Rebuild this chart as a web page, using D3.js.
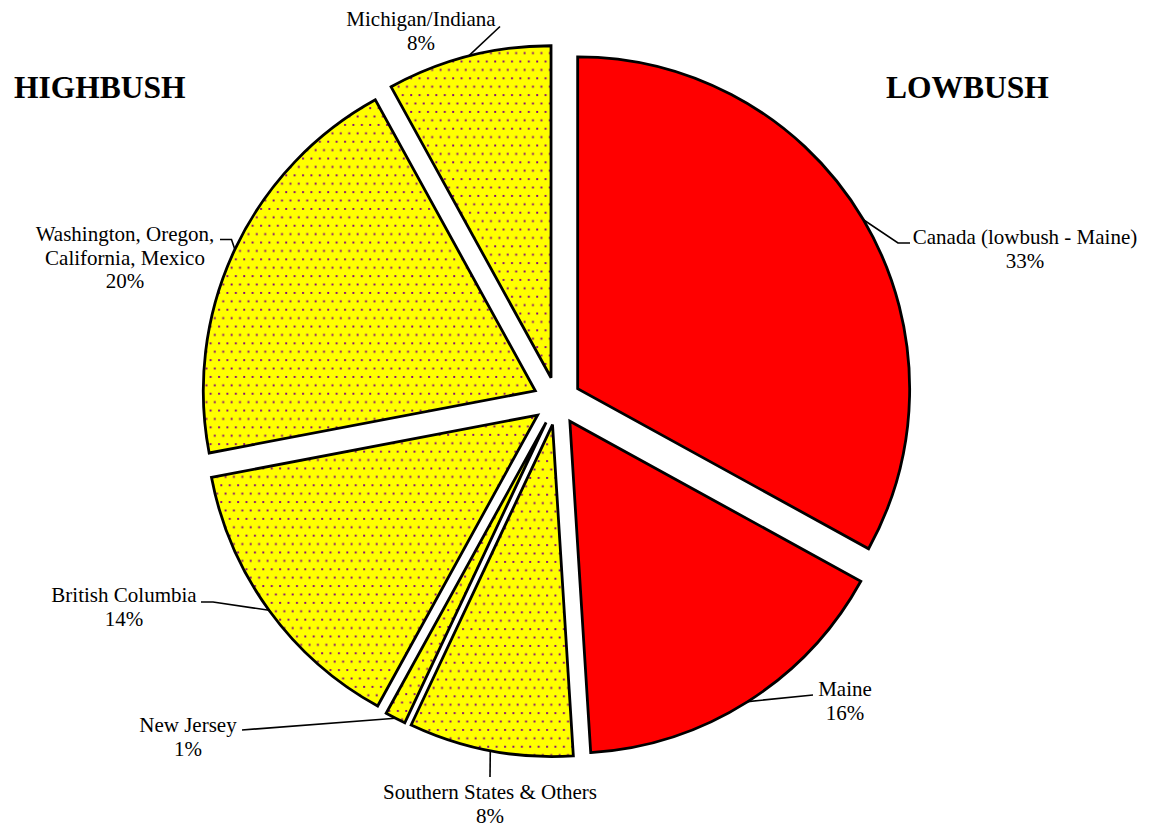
<!DOCTYPE html>
<html>
<head>
<meta charset="utf-8">
<script src="https://cdn.jsdelivr.net/npm/d3@7/dist/d3.min.js"></script>
<style>
html,body{margin:0;padding:0;background:#fff;}
svg{display:block;}
text{font-family:"Liberation Serif","Times New Roman",serif;fill:#000;}
</style>
</head>
<body>
<svg id="chart" width="1151" height="827"></svg>
<script>
// ---- data ----
const regions = ["Canada (lowbush - Maine)", "Maine", "Southern States & Others", "New Jersey", "British Columbia", "Washington, Oregon, California, Mexico", "Michigan/Indiana"];
const shares = [33, 16, 8, 1, 14, 20, 8];
const bushType = ["lowbush", "lowbush", "highbush", "highbush", "highbush", "highbush", "highbush"];
const labelLines = [
  ["Canada (lowbush - Maine)", "33%"],
  ["Maine", "16%"],
  ["Southern States & Others", "8%"],
  ["New Jersey", "1%"],
  ["British Columbia", "14%"],
  ["Washington, Oregon,", "California, Mexico", "20%"],
  ["Michigan/Indiana", "8%"]
];
const groupTitles = ["HIGHBUSH", "LOWBUSH"];

// ---- layout (positions only) ----
const W = 1151, H = 827;
const cx = 557, cy = 401, R = 332, explode = 24;
const labelFont = 21, lineGap = 23.5;
// label layout: text centre x, first baseline y, leader elbow points (from label side toward slice)
const labelLayout = [
  {x: 1025, y: 244, leader: [[910, 243], [898, 243]]},
  {x: 845,  y: 696, leader: [[813, 695]]},
  {x: 490,  y: 799, leader: [[490, 777]]},
  {x: 188,  y: 732, leader: [[242, 730]]},
  {x: 124,  y: 602, leader: [[201, 602], [213, 602]]},
  {x: 125,  y: 241, leader: [[220, 239.5], [231.5, 239.5]]},
  {x: 421,  y: 26,  leader: [[500, 26.5]]}
];
const titleLayout = [{x: 14, y: 98, anchor: "start"}, {x: 886, y: 98, anchor: "start"}];

const svg = d3.select("#chart");

// dotted pattern for highbush slices (staggered purple dots on yellow)
const defs = svg.append("defs");
const pw = 8.4, ph = 16.8;
const pat = defs.append("pattern").attr("id", "dots").attr("patternUnits", "userSpaceOnUse")
  .attr("width", pw).attr("height", ph);
pat.append("rect").attr("width", pw).attr("height", ph).attr("fill", "#FFFF00");
pat.append("rect").attr("x", 2).attr("y", 2).attr("width", 1.9).attr("height", 1.9).attr("fill", "#800080");
pat.append("rect").attr("x", 6.2).attr("y", 10.4).attr("width", 1.9).attr("height", 1.9).attr("fill", "#800080");

const fillFor = t => t === "lowbush" ? "#FF0000" : "url(#dots)";

const data = regions.map((r, i) => ({region: r, value: shares[i], type: bushType[i], lines: labelLines[i], layout: labelLayout[i]}));

const pie = d3.pie().sort(null).value(d => d.value).startAngle(0).endAngle(2 * Math.PI);
const arc = d3.arc().innerRadius(0).outerRadius(R);
const arcs = pie(data);

const g = svg.append("g").attr("transform", `translate(${cx},${cy})`);

arcs.forEach(a => {
  const mid = (a.startAngle + a.endAngle) / 2;
  a.ox = Math.sin(mid) * explode;
  a.oy = -Math.cos(mid) * explode;
  a.mid = mid;
});

g.selectAll("path.slice").data(arcs).enter().append("path")
  .attr("class", "slice")
  .attr("transform", d => `translate(${d.ox},${d.oy})`)
  .attr("d", arc)
  .attr("fill", d => fillFor(d.data.type))
  .attr("stroke", "#000")
  .attr("stroke-width", 2.8)
  .attr("stroke-linejoin", "miter");

// leader lines: from slice arc mid-point to label
const line = d3.line();
arcs.forEach(a => {
  const sx = cx + a.ox + Math.sin(a.mid) * R;
  const sy = cy + a.oy - Math.cos(a.mid) * R;
  const pts = [[sx, sy]].concat(a.data.layout.leader.slice().reverse());
  svg.append("path").attr("d", line(pts)).attr("fill", "none")
    .attr("stroke", "#000").attr("stroke-width", 1.6);
});

// labels
arcs.forEach(a => {
  const L = a.data.layout;
  const t = svg.append("text").attr("text-anchor", "middle").style("font-size", labelFont + "px");
  a.data.lines.forEach((s, i) => {
    t.append("tspan").attr("x", L.x).attr("y", L.y + i * lineGap).text(s);
  });
});

// group titles
groupTitles.forEach((s, i) => {
  svg.append("text").attr("x", titleLayout[i].x).attr("y", titleLayout[i].y)
    .attr("text-anchor", titleLayout[i].anchor)
    .style("font-size", "31.5px").style("font-weight", "bold").text(s);
});
</script>
</body>
</html>
